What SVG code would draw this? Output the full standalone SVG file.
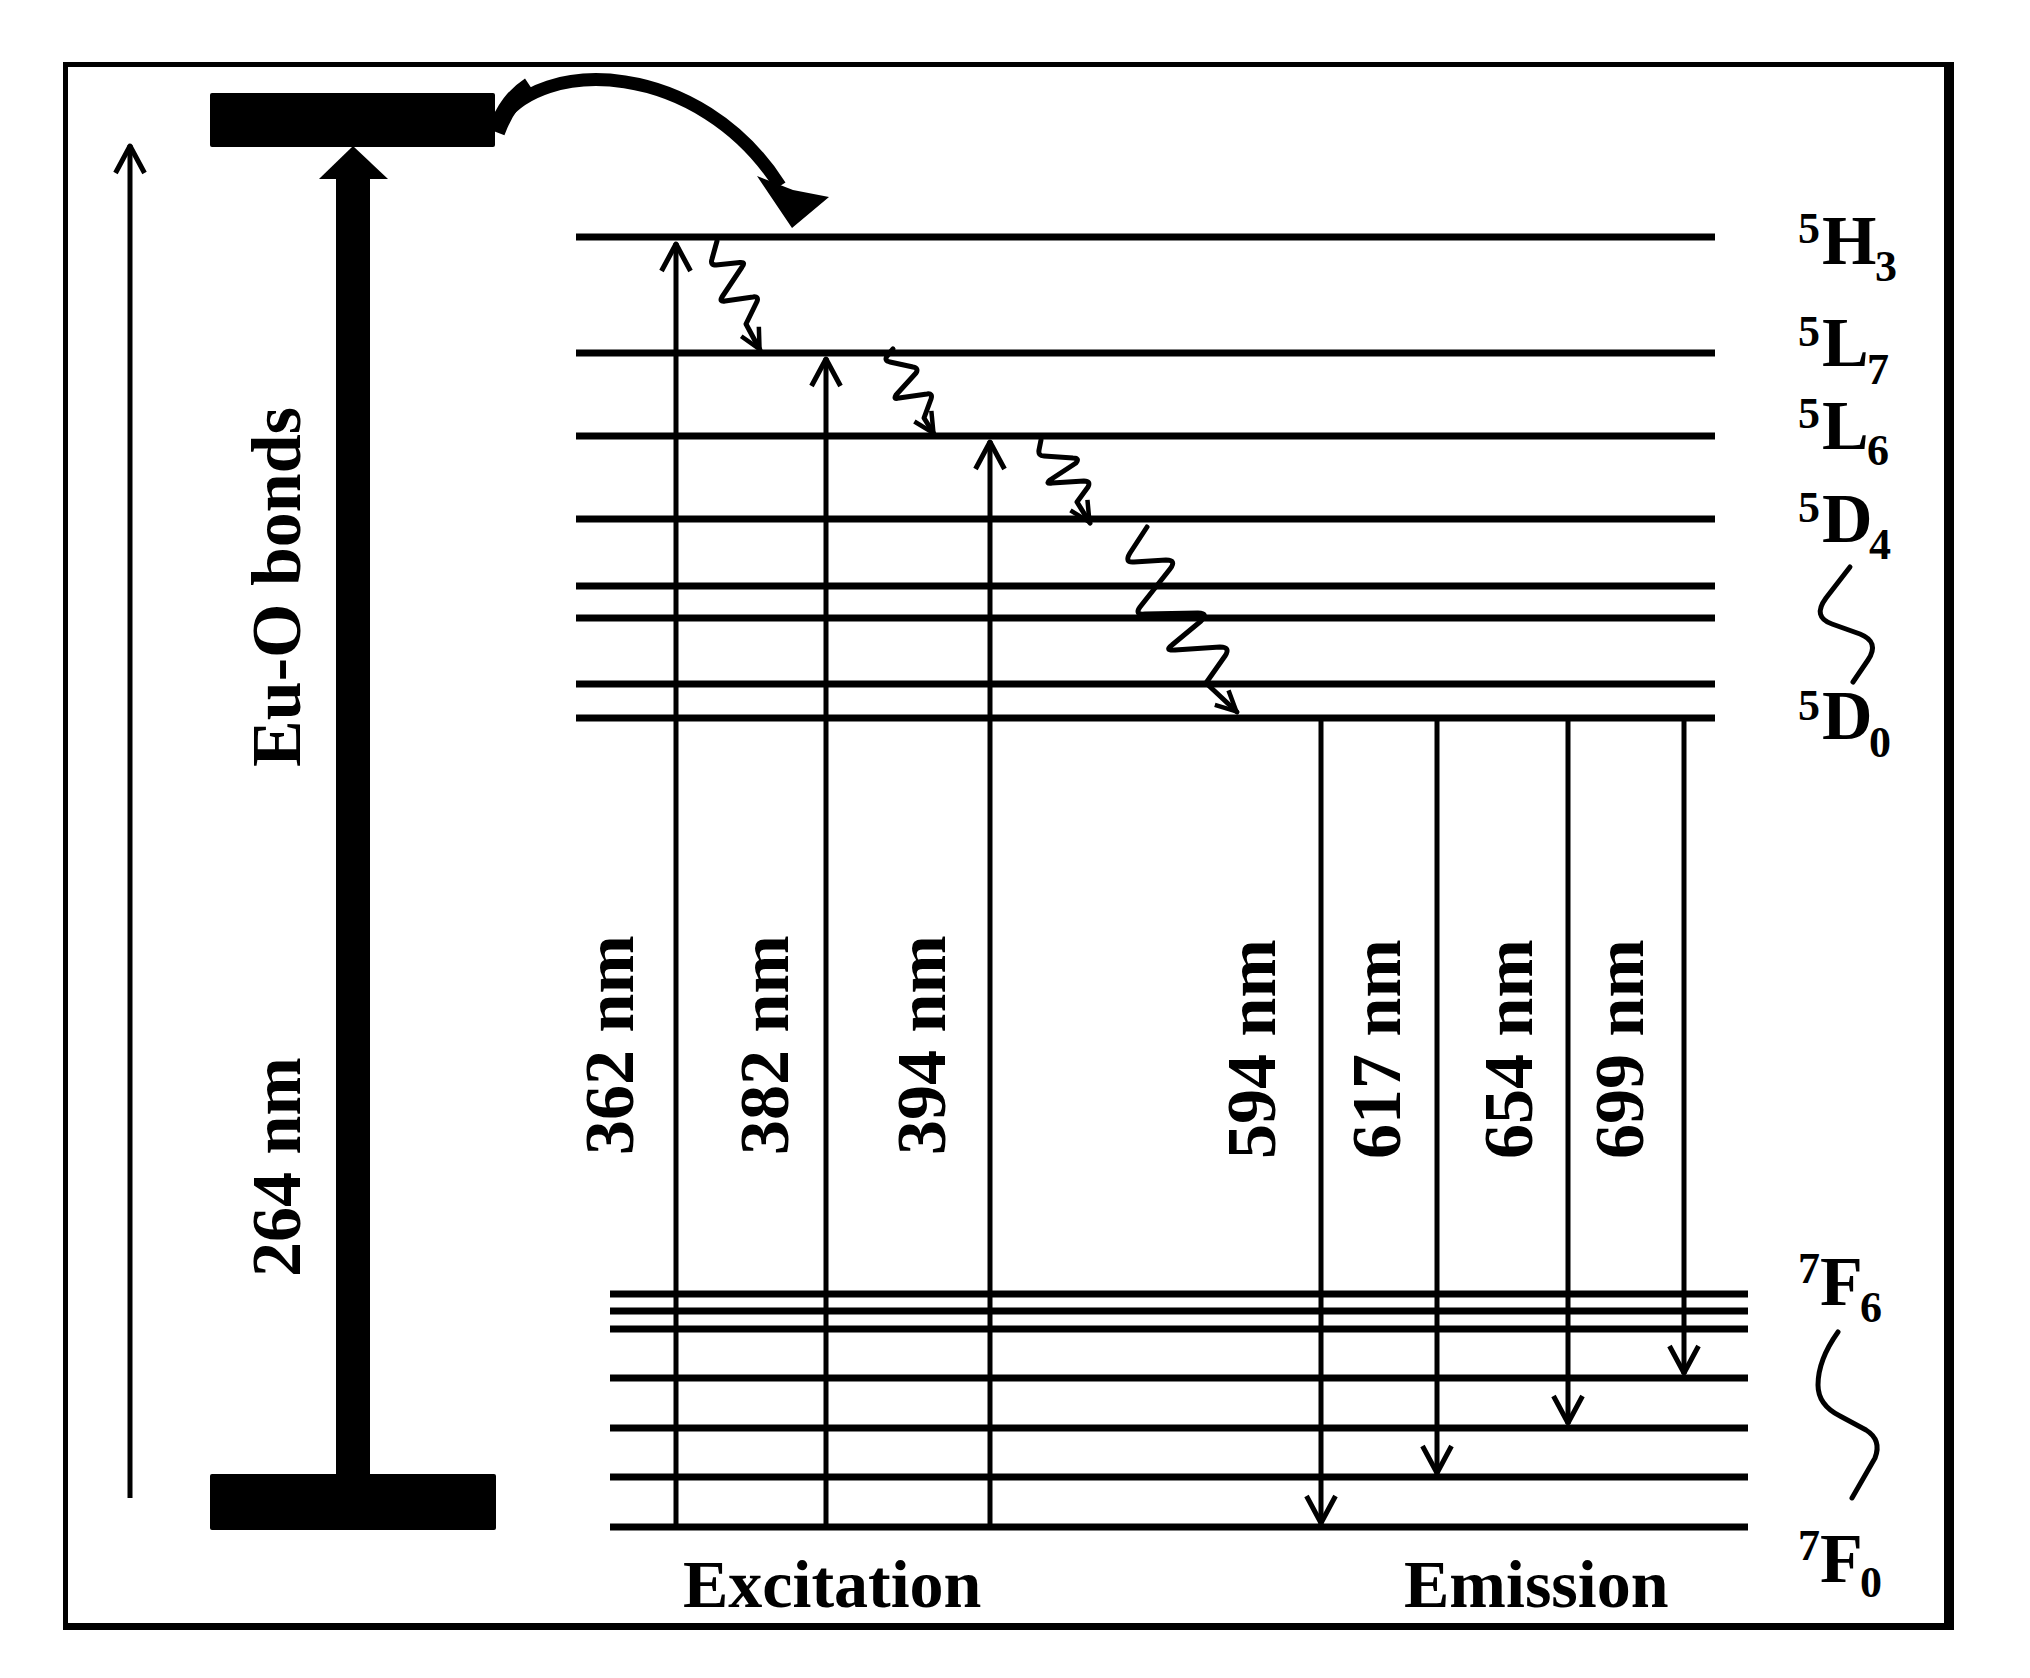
<svg xmlns="http://www.w3.org/2000/svg" width="2030" height="1678" viewBox="0 0 2030 1678">
<style>
.lv{stroke:#000;stroke-width:7;fill:none}
.ar{stroke:#000;stroke-width:5;fill:none}
.sq{stroke:#000;stroke-width:5;fill:none;stroke-linejoin:round;stroke-linecap:round}
.t{font-family:"Liberation Serif","Times New Roman",serif;font-weight:bold;fill:#000}
.big{font-size:70px}
.lab{font-size:70px}
.sm{font-size:44px}
</style>
<defs>
<marker id="ah" markerUnits="userSpaceOnUse" markerWidth="40" markerHeight="40" viewBox="0 0 40 40" refX="33" refY="20" orient="auto">
<path d="M5,5.5 L32,20 L5,34.5" fill="none" stroke="#000" stroke-width="5" stroke-linejoin="round"/>
</marker>
<marker id="ahs" markerUnits="userSpaceOnUse" markerWidth="32" markerHeight="32" viewBox="0 0 32 32" refX="26" refY="16" orient="auto">
<path d="M5,6 L25,16 L5,26" fill="none" stroke="#000" stroke-width="4.5" stroke-linejoin="round"/>
</marker>
</defs>
<rect width="2030" height="1678" fill="#fff"/>
<g id="frame">
<rect x="65.5" y="64.5" width="1882" height="1561" fill="none" stroke="#000" stroke-width="5"/>
<line x1="1949" y1="62" x2="1949" y2="1630" stroke="#000" stroke-width="10"/>
<line x1="63" y1="1626.5" x2="1954" y2="1626.5" stroke="#000" stroke-width="7"/>
</g>
<g id="host-levels">
<rect id="host-upper" x="210" y="93" width="285" height="54" rx="2" fill="#000"/>
<rect id="host-lower" x="210" y="1474" width="286" height="56" rx="2" fill="#000"/>
</g>
<g id="eu-levels-upper">
<line id="lv-5H3" class="lv" x1="576" y1="237" x2="1715" y2="237"/>
<line id="lv-5L7" class="lv" x1="576" y1="353" x2="1715" y2="353"/>
<line id="lv-5L6" class="lv" x1="576" y1="436" x2="1715" y2="436"/>
<line id="lv-5D4" class="lv" x1="576" y1="519" x2="1715" y2="519"/>
<line class="lv" x1="576" y1="586" x2="1715" y2="586"/>
<line class="lv" x1="576" y1="618" x2="1715" y2="618"/>
<line class="lv" x1="576" y1="684" x2="1715" y2="684"/>
<line id="lv-5D0" class="lv" x1="576" y1="718" x2="1715" y2="718"/>
</g>
<g id="eu-levels-lower">
<line id="lv-7F6" class="lv" x1="610" y1="1294" x2="1748" y2="1294"/>
<line class="lv" x1="610" y1="1311" x2="1748" y2="1311"/>
<line class="lv" x1="610" y1="1329" x2="1748" y2="1329"/>
<line class="lv" x1="610" y1="1378" x2="1748" y2="1378"/>
<line class="lv" x1="610" y1="1428" x2="1748" y2="1428"/>
<line class="lv" x1="610" y1="1477" x2="1748" y2="1477"/>
<line id="lv-7F0" class="lv" x1="610" y1="1527" x2="1748" y2="1527"/>
</g>
<g id="connectors">
<line id="energy-axis" class="ar" x1="130" y1="1498" x2="130" y2="145" marker-end="url(#ah)"/>
<g id="eu-o-excitation">
<rect x="336" y="170" width="34" height="1306" fill="#000"/>
<polygon points="319,179 353,146 388,179" fill="#000"/>
</g>
<g id="energy-transfer">
<path d="M498,124 C540,55 700,60 780,186" fill="none" stroke="#000" stroke-width="13"/>
<path d="M496,132 C505,108 515,96 530,86" fill="none" stroke="#000" stroke-width="18"/>
<polygon points="757,176 792,228 829,197 793,190" fill="#000"/>
</g>
<line id="exc-362" class="ar" x1="676" y1="1527" x2="676" y2="243" marker-end="url(#ah)"/>
<line id="exc-382" class="ar" x1="826" y1="1527" x2="826" y2="358" marker-end="url(#ah)"/>
<line id="exc-394" class="ar" x1="990" y1="1527" x2="990" y2="441" marker-end="url(#ah)"/>
<line id="em-594" class="ar" x1="1321" y1="718" x2="1321" y2="1524" marker-end="url(#ah)"/>
<line id="em-617" class="ar" x1="1437" y1="718" x2="1437" y2="1474" marker-end="url(#ah)"/>
<line id="em-654" class="ar" x1="1568" y1="718" x2="1568" y2="1424" marker-end="url(#ah)"/>
<line id="em-699" class="ar" x1="1684" y1="718" x2="1684" y2="1374" marker-end="url(#ah)"/>
<path id="nr-1" class="sq" d="M717,241 L712,259 Q710,265 716,265 L740,262.5 Q746,262 742,267 L722,297 Q719,302 725,301 L753,297 Q759,296 757,301.5 L746,324 L760,350" marker-end="url(#ahs)"/>
<path id="nr-2" class="sq" d="M893,349 L887,356 Q884,361 890,362 L913,367 Q919,368 916,373 L896,395 Q893,400 899,398 L927,394 Q933,393 931,399 L924,418 L934,434" marker-end="url(#ahs)"/>
<path id="nr-3" class="sq" d="M1041,440 L1039,450 Q1038,456 1044,456 L1073,458 Q1080,458 1076,463 L1050,480 Q1045,484 1052,483 L1084,481 Q1091,481 1088,487 L1077,502 L1090,523" marker-end="url(#ahs)"/>
<path id="nr-4" class="sq" d="M1147,527 L1130,553 Q1124,563 1134,562 L1166,560 Q1177,560 1170,569 L1140,607 Q1134,615 1145,614 L1198,613 Q1209,613 1201,621 L1172,645 Q1164,651 1175,650 L1220,647 Q1231,647 1225,656 L1206,683 L1237,712" marker-end="url(#ahs)"/>
<path id="brace-5D" class="sq" d="M1850,567 L1826,598 Q1812,617 1832,624 L1860,634 Q1880,642 1868,660 L1853,682"/>
<path id="brace-7F" class="sq" d="M1838,1332 Q1818,1360 1818,1385 Q1818,1405 1840,1416 L1866,1430 Q1882,1440 1875,1458 L1852,1498"/>
</g>
<g id="wavelength-labels" class="t big">
<text transform="translate(300,587) rotate(-90)" text-anchor="middle">Eu-O bonds</text>
<text transform="translate(300,1167) rotate(-90)" text-anchor="middle">264 nm</text>
<text transform="translate(633,1045) rotate(-90)" text-anchor="middle">362 nm</text>
<text transform="translate(788,1045) rotate(-90)" text-anchor="middle">382 nm</text>
<text transform="translate(945,1045) rotate(-90)" text-anchor="middle">394 nm</text>
<text transform="translate(1275,1049) rotate(-90)" text-anchor="middle">594 nm</text>
<text transform="translate(1400,1049) rotate(-90)" text-anchor="middle">617 nm</text>
<text transform="translate(1532,1049) rotate(-90)" text-anchor="middle">654 nm</text>
<text transform="translate(1643,1049) rotate(-90)" text-anchor="middle">699 nm</text>
</g>
<g id="section-labels" class="t" font-size="68">
<text x="683" y="1607">Excitation</text>
<text x="1404" y="1607">Emission</text>
</g>
<g id="term-labels" class="t">
<text id="t-5H3"><tspan class="sm" x="1798" y="243">5</tspan><tspan class="lab" x="1822" y="264">H</tspan><tspan class="sm" x="1875" y="281">3</tspan></text>
<text id="t-5L7"><tspan class="sm" x="1798" y="346">5</tspan><tspan class="lab" x="1822" y="366">L</tspan><tspan class="sm" x="1867" y="384">7</tspan></text>
<text id="t-5L6"><tspan class="sm" x="1798" y="428">5</tspan><tspan class="lab" x="1822" y="449">L</tspan><tspan class="sm" x="1867" y="465">6</tspan></text>
<text id="t-5D4"><tspan class="sm" x="1798" y="522">5</tspan><tspan class="lab" x="1822" y="542">D</tspan><tspan class="sm" x="1869" y="559">4</tspan></text>
<text id="t-5D0"><tspan class="sm" x="1798" y="720">5</tspan><tspan class="lab" x="1822" y="739">D</tspan><tspan class="sm" x="1869" y="757">0</tspan></text>
<text id="t-7F6"><tspan class="sm" x="1798" y="1283">7</tspan><tspan class="lab" x="1820" y="1305">F</tspan><tspan class="sm" x="1860" y="1322">6</tspan></text>
<text id="t-7F0"><tspan class="sm" x="1798" y="1560">7</tspan><tspan class="lab" x="1820" y="1582">F</tspan><tspan class="sm" x="1860" y="1597">0</tspan></text>
</g>
</svg>
